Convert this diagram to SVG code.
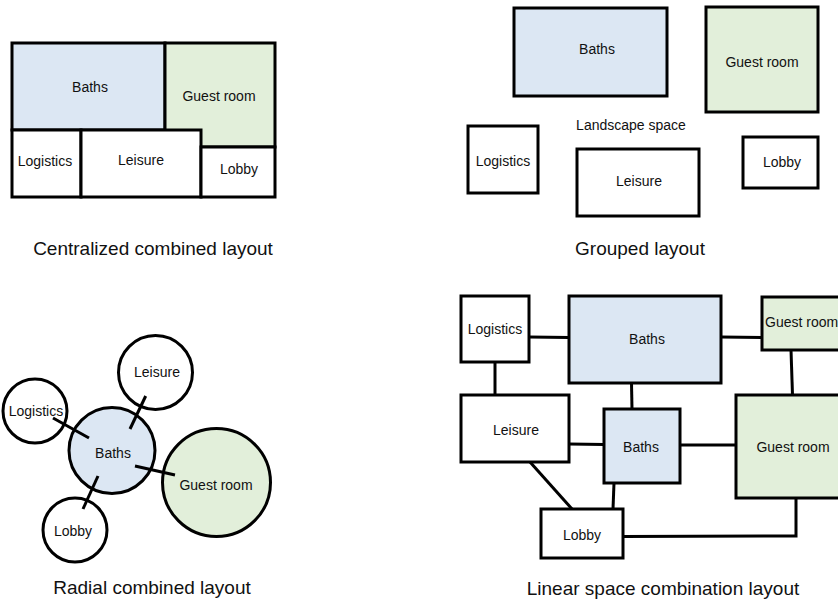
<svg xmlns="http://www.w3.org/2000/svg" width="838" height="601" viewBox="0 0 838 601">
<style>
.n{stroke:#000;stroke-width:3;fill:#fff}
.b{fill:#dce7f3}
.g{fill:#e2efda}
.t{font-family:"Liberation Sans",Arial,sans-serif;font-size:14px;fill:#111;text-anchor:middle}
.cap{font-family:"Liberation Sans",Arial,sans-serif;font-size:19px;fill:#111;text-anchor:middle}
.c{stroke:#000;stroke-width:3;fill:none;stroke-linecap:butt}
</style>
<rect width="838" height="601" fill="#fff"/>

<!-- Centralized combined layout -->
<g id="centralized">
  <g id="c-baths"><rect class="n b" x="12" y="43" width="153" height="87"/><text class="t" x="90" y="92">Baths</text></g>
  <g id="c-guest"><rect class="n g" x="165" y="43" width="110" height="104"/><text class="t" x="219" y="101">Guest room</text></g>
  <g id="c-logistics"><rect class="n" x="12" y="130" width="69" height="67"/><text class="t" x="45" y="166">Logistics</text></g>
  <g id="c-leisure"><rect class="n" x="81" y="130" width="120" height="67"/><text class="t" x="141" y="165">Leisure</text></g>
  <g id="c-lobby"><rect class="n" x="201" y="147" width="74" height="50"/><text class="t" x="239" y="174">Lobby</text></g>
  <text class="cap" x="153" y="255">Centralized combined layout</text>
</g>

<!-- Grouped layout -->
<g id="grouped">
  <g id="g-baths"><rect class="n b" x="514" y="8" width="153" height="88"/><text class="t" x="597" y="54">Baths</text></g>
  <g id="g-guest"><rect class="n g" x="706" y="7" width="112" height="105"/><text class="t" x="762" y="67">Guest room</text></g>
  <g id="g-landscape"><text class="t" x="631" y="130">Landscape space</text></g>
  <g id="g-logistics"><rect class="n" x="468" y="126" width="70" height="67"/><text class="t" x="503" y="166">Logistics</text></g>
  <g id="g-leisure"><rect class="n" x="577" y="149" width="122" height="67"/><text class="t" x="639" y="186">Leisure</text></g>
  <g id="g-lobby"><rect class="n" x="743" y="137" width="75" height="51"/><text class="t" x="782" y="167">Lobby</text></g>
  <text class="cap" x="640" y="255">Grouped layout</text>
</g>

<!-- Radial combined layout -->
<g id="radial">
  <g id="r-leisure"><circle class="n" cx="155.5" cy="372.5" r="37"/><text class="t" x="157" y="377">Leisure</text></g>
  <g id="r-logistics"><circle class="n" cx="35" cy="411" r="32"/><text class="t" x="36" y="416">Logistics</text></g>
  <g id="r-baths"><circle class="n b" cx="112" cy="450.5" r="43"/><text class="t" x="113" y="458">Baths</text></g>
  <g id="r-guest"><circle class="n g" cx="216.5" cy="482.5" r="54"/><text class="t" x="216" y="490">Guest room</text></g>
  <g id="r-lobby"><circle class="n" cx="75" cy="530" r="32"/><text class="t" x="73" y="536">Lobby</text></g>
  <text class="cap" x="152" y="594">Radial combined layout</text>
</g>
<g id="radial-connectors">
  <line class="c" x1="145.7" y1="396" x2="130" y2="429"/>
  <line class="c" x1="53" y1="418" x2="89" y2="438"/>
  <line class="c" x1="135" y1="466" x2="175" y2="475"/>
  <line class="c" x1="98" y1="476" x2="83" y2="509"/>
</g>

<!-- Linear space combination layout -->
<g id="linear-connectors">
  <line class="c" x1="529" y1="337" x2="569" y2="337.5"/>
  <line class="c" x1="721" y1="337" x2="762" y2="337.5"/>
  <line class="c" x1="791" y1="350" x2="792.5" y2="395"/>
  <line class="c" x1="495" y1="362" x2="495" y2="395"/>
  <line class="c" x1="631.5" y1="383" x2="632" y2="409"/>
  <line class="c" x1="569" y1="444" x2="604" y2="444.5"/>
  <line class="c" x1="680" y1="445" x2="736" y2="445"/>
  <line class="c" x1="530" y1="462" x2="572" y2="509"/>
  <line class="c" x1="614" y1="483" x2="613" y2="509"/>
  <polyline class="c" points="623,536.5 796,536 796,498"/>
</g>
<g id="linear">
  <g id="l-logistics"><rect class="n" x="461" y="296" width="68" height="66"/><text class="t" x="495" y="334">Logistics</text></g>
  <g id="l-baths1"><rect class="n b" x="569" y="296" width="152" height="87"/><text class="t" x="647" y="344">Baths</text></g>
  <g id="l-guest1"><rect class="n g" x="762" y="297" width="90" height="53"/><text class="t" x="765" y="327" style="text-anchor:start">Guest room</text></g>
  <g id="l-leisure"><rect class="n" x="461" y="395" width="108" height="67"/><text class="t" x="516" y="435">Leisure</text></g>
  <g id="l-baths2"><rect class="n b" x="604" y="409" width="76" height="74"/><text class="t" x="641" y="452">Baths</text></g>
  <g id="l-guest2"><rect class="n g" x="736" y="395" width="116" height="103"/><text class="t" x="793" y="452">Guest room</text></g>
  <g id="l-lobby"><rect class="n" x="541" y="509" width="82" height="49"/><text class="t" x="582" y="540">Lobby</text></g>
  <text class="cap" x="663" y="595">Linear space combination layout</text>
</g>
</svg>
